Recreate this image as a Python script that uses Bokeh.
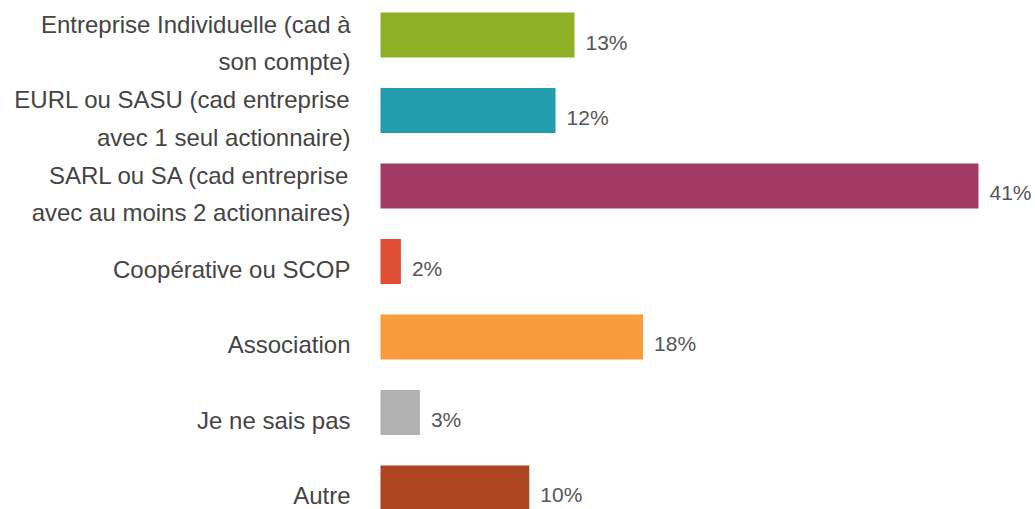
from bokeh.plotting import figure
from bokeh.models import Range1d, ColumnDataSource
from bokeh.core.properties import value
from bokeh.embed import file_html
from bokeh.resources import INLINE

categories = [
    "Entreprise Individuelle (cad à\nson compte)",
    "EURL ou SASU (cad entreprise\navec 1 seul actionnaire)",
    "SARL ou SA (cad entreprise\navec au moins 2 actionnaires)",
    "Coopérative ou SCOP",
    "Association",
    "Je ne sais pas",
    "Autre",
]
values = [13.3, 12.0, 41.0, 1.4, 18.0, 2.7, 10.2]
value_labels = ["13%", "12%", "41%", "2%", "18%", "3%", "10%"]
colors = ["#8DB024", "#229DAE", "#A23A66", "#E04E36", "#F79B3B", "#B2B2B2", "#AD4422"]

idx = list(range(len(categories)))
src = ColumnDataSource(dict(y=idx, v=values, cat=categories, lab=value_labels, c=colors))

p = figure(width=1035, height=509, output_backend="svg", toolbar_location=None,
           x_range=Range1d(-26.054, 44.909), y_range=Range1d(6.285, -0.457),
           min_border=0, outline_line_color=None)
p.axis.visible = False
p.grid.visible = False
p.background_fill_color = "white"
p.border_fill_color = "white"

p.hbar(y="y", left=0, right="v", height=0.596, color="c", line_color=None, source=src)

p.text(x=0, y="y", text="cat", source=src, x_offset=-30, y_offset=8,
       text_align="right", text_baseline="middle", text_font=value("Liberation Sans"),
       text_font_size="24px", text_color="#444444", text_line_height=1.38)

p.text(x="v", y="y", text="lab", source=src, x_offset=11, y_offset=7,
       text_align="left", text_baseline="middle", text_font=value("Liberation Sans"),
       text_font_size="21px", text_color="#555555")

open("out.html", "w").write(file_html(p, INLINE))
